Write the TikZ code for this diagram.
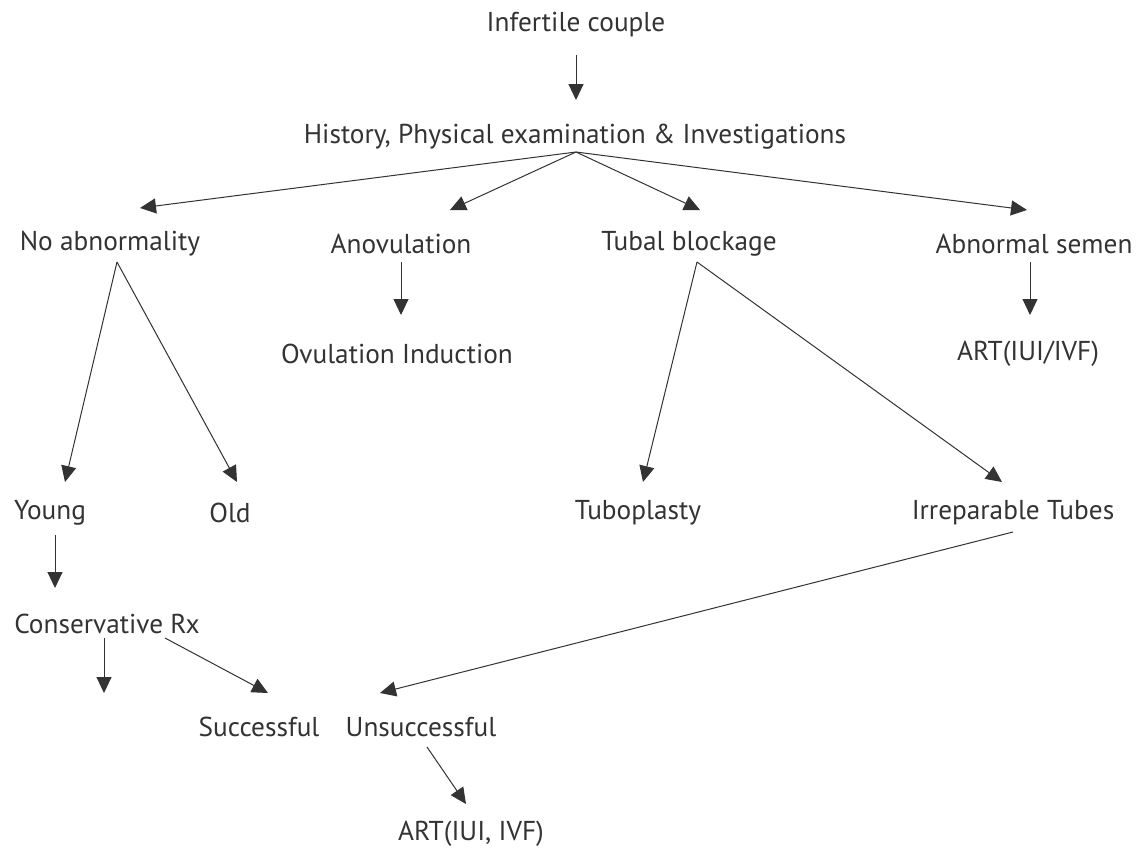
\documentclass[tikz,border=0pt]{standalone}
\usepackage{fontspec}
\setmainfont{PT Sans}
\usetikzlibrary{calc,arrows.meta}
\definecolor{ink}{HTML}{333333}
\begin{document}
\begin{tikzpicture}[x=1pt,y=-1pt,
  lbl/.style={inner sep=0pt,text=ink,font=\fontsize{27.3}{32}\selectfont},
  arr/.style={draw=ink,line width=1pt,-{Triangle[length=16pt,width=15pt]}}]
\useasboundingbox[fill=white] (0,0) rectangle (1138,849);
\node[lbl] (ic) at (576,25) {Infertile couple};
\node[lbl] (hist) at (575,137) {History, Physical examination \& Investigations};
\node[lbl] (noab) at (110,244) {No abnormality};
\node[lbl] (anov) at (401,244) {Anovulation};
\node[lbl] (tubal) at (689,244) {Tubal blockage};
\node[lbl] (semen) at (1034,244) {Abnormal semen};
\node[lbl] (ovul) at (397,354) {Ovulation Induction};
\node[lbl] (art1) at (1028,354) {ART(IUI/IVF)};
\node[lbl] (young) at (50,513) {Young};
\node[lbl] (old) at (230,513) {Old};
\node[lbl] (tubo) at (638,513) {Tuboplasty};
\node[lbl] (irr) at (1013,513) {Irreparable Tubes};
\node[lbl] (cons) at (107,624) {Conservative Rx};
\node[lbl] (succ) at (259,727) {Successful};
\node[lbl] (unsucc) at (421,727) {Unsuccessful};
\node[lbl] (art2) at (471,834) {ART(IUI, IVF)};
\coordinate (free) at (104,693);

\draw[arr] ($(ic)+(0,30)$) -- ($(hist)+(1,-37)$);
\draw[arr] ($(hist)+(1,15)$) -- ($(noab)+(30,-36)$);
\draw[arr] ($(hist)+(1,15)$) -- ($(anov)+(49,-34)$);
\draw[arr] ($(hist)+(1,15)$) -- ($(tubal)+(11,-34)$);
\draw[arr] ($(hist)+(1,15)$) -- ($(semen)+(-7,-34)$);
\draw[arr] ($(anov)+(0,18)$) -- ($(ovul)+(4,-39)$);
\draw[arr] ($(semen)+(-4,18)$) -- ($(art1)+(2,-39)$);
\draw[arr] ($(noab)+(7,18)$) -- ($(young)+(15,-31)$);
\draw[arr] ($(noab)+(7,18)$) -- ($(old)+(7,-31)$);
\draw[arr] ($(tubal)+(8,18)$) -- ($(tubo)+(5,-31)$);
\draw[arr] ($(tubal)+(8,18)$) -- ($(irr)+(-11,-31)$);
\draw[arr] ($(young)+(5,22)$) -- ($(cons)+(-52,-36)$);
\draw[arr] ($(cons)+(-3,14)$) -- (free);
\draw[arr] ($(cons)+(58,14)$) -- ($(succ)+(9,-34)$);
\draw[arr] ($(irr)+(0,19)$) -- ($(unsucc)+(-41,-34)$);
\draw[arr] ($(unsucc)+(6,20)$) -- ($(art2)+(-5,-30)$);
\end{tikzpicture}
\end{document}
